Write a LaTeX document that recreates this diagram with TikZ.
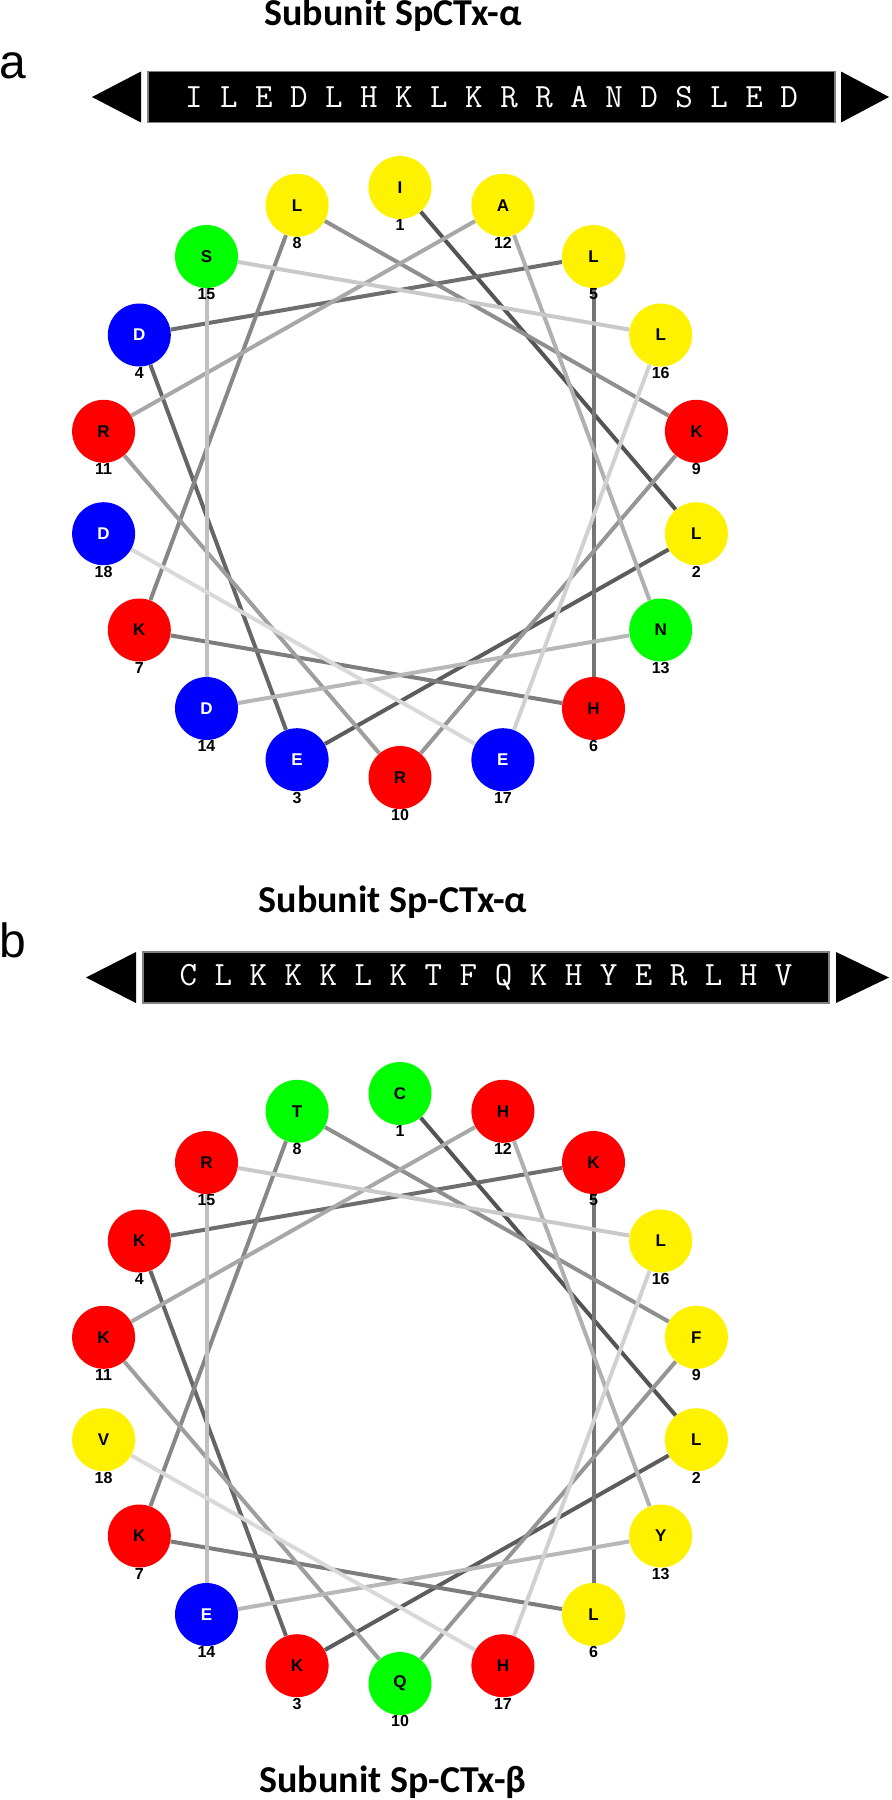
\documentclass[tikz,border=0pt]{standalone}
\usepackage{fontspec}
\setmainfont{Liberation Sans}
\newfontfamily\titlefont{Carlito}
\usepackage{tikz}
\usetikzlibrary{backgrounds}

\tikzset{
  res/.style={circle, minimum size=31.5pt, inner sep=0pt,
              font=\fontsize{8.5}{9}\selectfont\bfseries, label distance=2.5pt,
              label={[inner sep=0pt, font=\fontsize{8}{9}\selectfont\bfseries]below:#1}},
  ylw/.style={fill=yellow},
  grn/.style={fill=green},
  blu/.style={fill=blue, text=white},
  rd/.style={fill=red},
  turn/.style={line width=2pt},
  seqbox/.style={fill=black, draw=gray, line width=0.6pt, text=white,
                 minimum height=25.5pt, inner sep=0pt,
                 font=\ttfamily\fontsize{17}{18}\selectfont},
  subtitle/.style={font=\titlefont\fontsize{19}{22}\selectfont\bfseries, anchor=base},
  panel/.style={font=\fontsize{24}{26}\selectfont, anchor=base}
}

\begin{document}
\begin{tikzpicture}[x=0.5pt, y=-0.5pt]
\useasboundingbox (0,0) rectangle (892,1800);

\draw (393, 25) node[subtitle] (titlea) {Subunit SpCTx-α};
\draw (13, 78) node[panel] (panela) {a};
\draw (491.5, 97) node[seqbox, minimum width=343.5pt] (seqa)
  {I L E D L H K L K R R A N D S L E D};
\fill[black] (92, 97) -- (141, 71.5) -- (141, 122.5) -- cycle;
\fill[black] (889, 97) -- (841, 71.5) -- (841, 122.5) -- cycle;

\draw (400, 187.5) node[res=1, ylw] (a1) {I};
\draw (696.4, 533.7) node[res=2, ylw] (a2) {L};
\draw (297.1, 759.7) node[res=3, blu] (a3) {E};
\draw (139.3, 335) node[res=4, blu] (a4) {D};
\draw (593.5, 256.5) node[res=5, ylw] (a5) {L};
\draw (593.5, 708.5) node[res=6, rd] (a6) {H};
\draw (139.3, 630) node[res=7, rd] (a7) {K};
\draw (297.1, 205.3) node[res=8, ylw] (a8) {L};
\draw (696.4, 431.3) node[res=9, rd] (a9) {K};
\draw (400, 777.5) node[res=10, rd] (a10) {R};
\draw (103.6, 431.3) node[res=11, rd] (a11) {R};
\draw (502.9, 205.3) node[res=12, ylw] (a12) {A};
\draw (660.7, 630) node[res=13, grn] (a13) {N};
\draw (206.5, 708.5) node[res=14, blu] (a14) {D};
\draw (206.5, 256.5) node[res=15, grn] (a15) {S};
\draw (660.7, 335) node[res=16, ylw] (a16) {L};
\draw (502.9, 759.7) node[res=17, blu] (a17) {E};
\draw (103.6, 533.7) node[res=18, blu] (a18) {D};

\begin{pgfonlayer}{background}
\draw[turn, black!67] (a1) -- (a2);
\draw[turn, black!64] (a2) -- (a3);
\draw[turn, black!60] (a3) -- (a4);
\draw[turn, black!57] (a4) -- (a5);
\draw[turn, black!54] (a5) -- (a6);
\draw[turn, black!51] (a6) -- (a7);
\draw[turn, black!47] (a7) -- (a8);
\draw[turn, black!44] (a8) -- (a9);
\draw[turn, black!41] (a9) -- (a10);
\draw[turn, black!38] (a10) -- (a11);
\draw[turn, black!34] (a11) -- (a12);
\draw[turn, black!31] (a12) -- (a13);
\draw[turn, black!28] (a13) -- (a14);
\draw[turn, black!25] (a14) -- (a15);
\draw[turn, black!21] (a15) -- (a16);
\draw[turn, black!18] (a16) -- (a17);
\draw[turn, black!15] (a17) -- (a18);
\end{pgfonlayer}

\draw (393, 912) node[subtitle] (titleb) {Subunit Sp-CTx-α};
\draw (13, 957) node[panel] (panelb) {b};
\draw (486, 977.5) node[seqbox, minimum width=343pt] (seqb)
  {C L K K K L K T F Q K H Y E R L H V};
\fill[black] (86, 977.5) -- (136, 952) -- (136, 1003) -- cycle;
\fill[black] (889, 977.5) -- (836, 952) -- (836, 1003) -- cycle;

\draw (400, 1093.5) node[res=1, grn] (b1) {C};
\draw (696.4, 1439.7) node[res=2, ylw] (b2) {L};
\draw (297.1, 1665.7) node[res=3, rd] (b3) {K};
\draw (139.3, 1241) node[res=4, rd] (b4) {K};
\draw (593.5, 1162.5) node[res=5, rd] (b5) {K};
\draw (593.5, 1614.5) node[res=6, ylw] (b6) {L};
\draw (139.3, 1536) node[res=7, rd] (b7) {K};
\draw (297.1, 1111.3) node[res=8, grn] (b8) {T};
\draw (696.4, 1337.3) node[res=9, ylw] (b9) {F};
\draw (400, 1683.5) node[res=10, grn] (b10) {Q};
\draw (103.6, 1337.3) node[res=11, rd] (b11) {K};
\draw (502.9, 1111.3) node[res=12, rd] (b12) {H};
\draw (660.7, 1536) node[res=13, ylw] (b13) {Y};
\draw (206.5, 1614.5) node[res=14, blu] (b14) {E};
\draw (206.5, 1162.5) node[res=15, rd] (b15) {R};
\draw (660.7, 1241) node[res=16, ylw] (b16) {L};
\draw (502.9, 1665.7) node[res=17, rd] (b17) {H};
\draw (103.6, 1439.7) node[res=18, ylw] (b18) {V};

\begin{pgfonlayer}{background}
\draw[turn, black!67] (b1) -- (b2);
\draw[turn, black!64] (b2) -- (b3);
\draw[turn, black!60] (b3) -- (b4);
\draw[turn, black!57] (b4) -- (b5);
\draw[turn, black!54] (b5) -- (b6);
\draw[turn, black!51] (b6) -- (b7);
\draw[turn, black!47] (b7) -- (b8);
\draw[turn, black!44] (b8) -- (b9);
\draw[turn, black!41] (b9) -- (b10);
\draw[turn, black!38] (b10) -- (b11);
\draw[turn, black!34] (b11) -- (b12);
\draw[turn, black!31] (b12) -- (b13);
\draw[turn, black!28] (b13) -- (b14);
\draw[turn, black!25] (b14) -- (b15);
\draw[turn, black!21] (b15) -- (b16);
\draw[turn, black!18] (b16) -- (b17);
\draw[turn, black!15] (b17) -- (b18);
\end{pgfonlayer}

\draw (393, 1792) node[subtitle] (titlec) {Subunit Sp-CTx-β};
\end{tikzpicture}
\end{document}
